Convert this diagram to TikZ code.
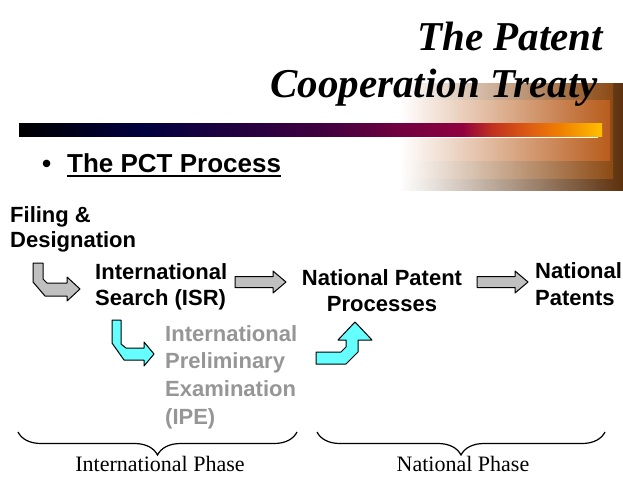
\documentclass[tikz,border=0pt]{standalone}
\usepackage{fontspec}
\setmainfont{Liberation Serif}
\setsansfont{Liberation Sans}
\usetikzlibrary{decorations.pathreplacing}
\definecolor{Block}{HTML}{C0C0C0}
\definecolor{Aqua}{HTML}{66FFFF}
\definecolor{Muted}{HTML}{969696}
\definecolor{BarNavy}{HTML}{000040}
\definecolor{BarPlum}{HTML}{400040}
\definecolor{BarWine}{HTML}{700040}
\definecolor{BarCrimson}{HTML}{900040}
\definecolor{BarRust}{HTML}{C03020}
\definecolor{BarFlame}{HTML}{E06010}
\definecolor{BarOrange}{HTML}{F08000}
\definecolor{BarGold}{HTML}{FFC000}
\definecolor{SandA}{HTML}{D0CCC8}
\definecolor{SandB}{HTML}{D8C8BC}
\definecolor{SandC}{HTML}{E2C0AE}
\definecolor{UmberA}{HTML}{5C300C}
\definecolor{UmberB}{HTML}{8C4A14}
\definecolor{UmberC}{HTML}{B85C1C}
% rule under the title, dark on the left, gold on the right
\pgfdeclarehorizontalshading{rulebar}{100bp}{color(0bp)=(black); color(25bp)=(black);
  color(35.5bp)=(BarNavy); color(51bp)=(BarPlum); color(57.5bp)=(BarWine);
  color(63bp)=(BarCrimson); color(65.5bp)=(BarRust); color(69bp)=(BarFlame);
  color(71.5bp)=(BarOrange); color(75bp)=(BarGold); color(100bp)=(BarGold)}

\tikzset{
  title/.style={font=\fontsize{41}{48}\selectfont\bfseries\itshape, inner sep=0pt},
  proc/.style={font=\sffamily\bfseries\fontsize{22}{26}\selectfont, inner sep=0pt, align=left},
  phaselabel/.style={font=\fontsize{22}{26}\selectfont, inner sep=0pt},
  blockarrow/.style={draw=black, line width=1pt, line join=round},
  grayarrow/.style={blockarrow, fill=Block},
  aquaarrow/.style={blockarrow, fill=Aqua},
  phase/.style={decorate, decoration={brace, mirror, amplitude=23pt}, line width=1.2pt},
  pics/flatarrow/.style={code={
    \draw[grayarrow] (0,-5.5) -- (38,-5.5) -- (38,-11) -- (51,0) -- (38,11) -- (38,5.5) -- (0,5.5) -- cycle;}}
}

\begin{document}
\begin{tikzpicture}[x=1pt, y=-1pt]
  \fill[white] (0,0) rectangle (623,477);
  \useasboundingbox (0,0) rectangle (623,477);

  % fading backdrop at the top right
  \shade[left color=white, middle color=SandA, right color=UmberA] (400,83) rectangle (623,190);
  \shade[left color=white, middle color=SandB, right color=UmberB] (400,83) rectangle (613,178);
  \shade[left color=white, middle color=SandC, right color=UmberC] (400,100) rectangle (610,160);

  \shade[shading=rulebar] (19,123) rectangle (602,136);
  \draw[white, line width=0.8pt] (400,137.5) -- (598,137.5);

  \node[title, anchor=base east] (titleA) at (603,50) {The Patent};
  \node[title, anchor=base east] (titleB) at (598,97) {Cooperation Treaty};

  \node[font=\sffamily\bfseries\fontsize{26}{30}\selectfont, inner sep=0pt, anchor=base west] (dot) at (42,172) {\textbullet};
  \node[font=\sffamily\bfseries\fontsize{26}{30}\selectfont, inner sep=0pt, anchor=base west] (pct) at (67,172) {The PCT Process};
  \draw[line width=1.8pt] ([yshift=-4pt]pct.base west) -- ([yshift=-4pt]pct.base east);

  % steps of the process
  \node[proc, font=\sffamily\bfseries\fontsize{22}{25}\selectfont, anchor=north west] (filing) at (10,206) {Filing \&\\Designation};
  \node[proc, anchor=north west] (isr) at (95,263) {International\\Search (ISR)};
  \node[proc, align=center, anchor=north] (npp) at (382,269) {National Patent\\Processes};
  \node[proc, font=\sffamily\bfseries\fontsize{22}{27}\selectfont, anchor=north west] (np) at (535,262) {National\\Patents};
  \node[proc, font=\sffamily\bfseries\fontsize{22}{27.7}\selectfont, text=Muted, anchor=north west] (ipe) at (165,325) {International\\Preliminary\\Examination\\(IPE)};

  % block arrows between the steps
  \draw[grayarrow] (33,263) -- (33,282) -- (45,296) -- (67,296) -- (67,301) -- (80,289)
    -- (67,277) -- (67,283) -- (47,283) -- (43,279) -- (43,263) -- cycle;
  \pic at (235,282) {flatarrow};
  \pic at (477,282) {flatarrow};
  \draw[aquaarrow] (112,320) -- (112,343) -- (124,360) -- (144,360) -- (144,366) -- (154,354)
    -- (144,342) -- (144,348) -- (126,348) -- (121,344) -- (121,320) -- cycle;
  \draw[aquaarrow] (316,352) -- (341,352) -- (346,347) -- (346,340) -- (338,340) -- (355,322)
    -- (372,340) -- (358,340) -- (358,352) -- (346,364) -- (316,364) -- cycle;

  % phases
  \draw[phase] (18,432) -- (297,432);
  \draw[phase] (317,432) -- (605,432);
  \node[phaselabel, anchor=base] (intl) at (160,471) {International Phase};
  \node[phaselabel, anchor=base] (natl) at (463,471) {National Phase};
\end{tikzpicture}
\end{document}
